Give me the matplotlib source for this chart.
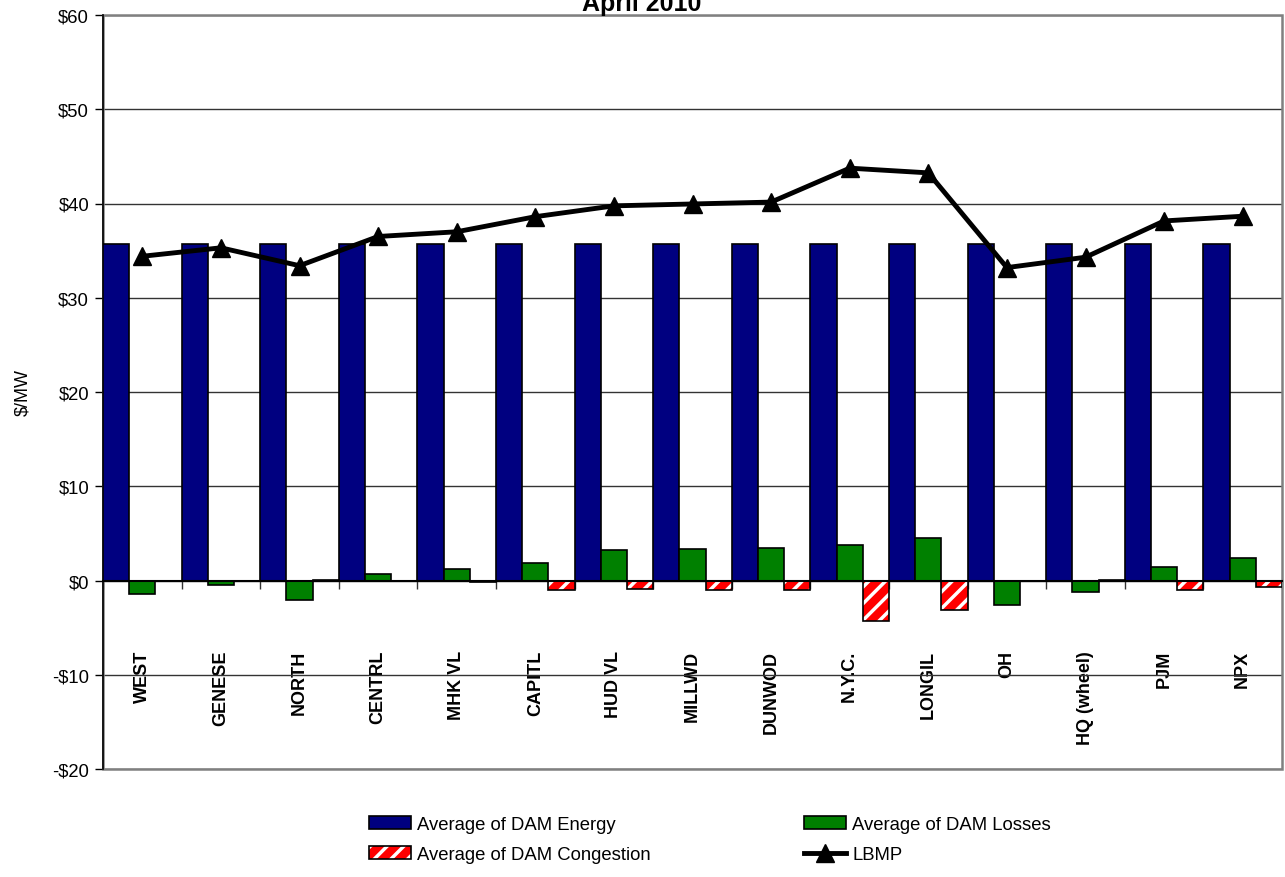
import matplotlib
matplotlib.use("Agg")
import matplotlib.pyplot as plt
from matplotlib.patches import Rectangle, Patch
from matplotlib.lines import Line2D
from matplotlib.legend_handler import HandlerTuple
import numpy as np

plt.rcParams['font.family'] = ['Liberation Sans', 'DejaVu Sans']
plt.rcParams['hatch.linewidth'] = 2.5

categories = ["WEST", "GENESE", "NORTH", "CENTRL", "MHK VL", "CAPITL", "HUD VL",
              "MILLWD", "DUNWOD", "N.Y.C.", "LONGIL", "OH", "HQ (wheel)", "PJM", "NPX"]
energy = [35.7, 35.7, 35.7, 35.7, 35.7, 35.7, 35.7, 35.7, 35.7, 35.7, 35.7, 35.7, 35.7, 35.7, 35.7]
losses = [-1.4, -0.5, -2.1, 0.7, 1.2, 1.9, 3.26, 3.3, 3.47, 3.8, 4.46, -2.55, -1.24, 1.41, 2.37]
congestion = [-0.1, -0.08, 0.05, -0.1, -0.12, -1.0, -0.9, -1.0, -1.0, -4.25, -3.15, -0.06, 0.06, -1.03, -0.74]
lbmp = [34.4, 35.3, 33.4, 36.5, 37.0, 38.6, 39.75, 39.95, 40.15, 43.75, 43.25, 33.2, 34.3, 38.15, 38.65]
yticks = [-20, -10, 0, 10, 20, 30, 40, 50, 60]

fig = plt.figure(figsize=(12.85, 8.78), dpi=100)
ax = fig.add_axes([103/1285, 1-770/878, (1282-103)/1285, (770-16)/878])

x = np.arange(len(categories))
w = 1/3
ax.bar(x - w, energy, width=w, color='#000080', edgecolor='black', linewidth=1.2, zorder=3)
ax.bar(x, losses, width=w, color='#008000', edgecolor='black', linewidth=1.2, zorder=3)
ax.bar(x + w, congestion, width=w, color='#ff0000', edgecolor='white', hatch='//', linewidth=0, zorder=3)
ax.bar(x + w, congestion, width=w, fill=False, edgecolor='black', linewidth=1.2, zorder=3.5)
ax.plot(x, lbmp, color='black', lw=3.5, marker='^', ms=13, zorder=5)

ax.set_xlim(-0.5, len(categories) - 0.5)
ax.set_ylim(-20, 60)
ax.set_yticks(yticks)
ax.set_yticklabels([("-$%d" % -v) if v < 0 else ("$%d" % v) for v in yticks], fontsize=13.3)
ax.tick_params(axis='y', direction='out', length=6, width=1, pad=4)
ax.yaxis.grid(True, color='#333333', lw=1, zorder=0)
ax.set_axisbelow(True)

# category axis at zero
ax.spines['bottom'].set_position(('data', 0))
ax.spines['bottom'].set_color('black')
ax.spines['bottom'].set_linewidth(1.5)
ax.spines['bottom'].set_zorder(4)
ax.set_xticks(x)
ax.set_xticklabels(categories, rotation=90, fontsize=13, fontweight='bold')
ax.tick_params(axis='x', which='major', length=0, pad=50)
ax.set_xticks(np.arange(-0.5, len(categories), 1), minor=True)
ax.tick_params(axis='x', which='minor', direction='out', length=6, width=1, color='#333333')
ax.spines['top'].set_visible(False)
ax.spines['right'].set_visible(False)
ax.spines['left'].set_color('black')
ax.spines['left'].set_linewidth(1.2)
ax.add_patch(Rectangle((0, 0), 1, 1, transform=ax.transAxes, fill=False,
                       edgecolor='#808080', lw=1.8, clip_on=False, zorder=1))

ax.set_ylabel('$/MW', fontsize=13)
ax.yaxis.set_label_coords(-0.061, 0.5)

fig.text(0.4996, 1 - 11/878, 'April 2010', ha='center', va='baseline',
         fontsize=18, fontweight='bold')

h_energy = Patch(facecolor='#000080', edgecolor='black', linewidth=1.2)
h_loss = Patch(facecolor='#008000', edgecolor='black', linewidth=1.2)
h_cong = (Patch(facecolor='#ff0000', edgecolor='white', hatch='//', linewidth=0),
          Patch(fill=False, edgecolor='black', linewidth=1.2))
h_lbmp = Line2D([], [], color='black', lw=3.5, marker='^', ms=13)
leg = fig.legend([h_energy, h_cong, h_loss, h_lbmp],
                 ['Average of DAM Energy', 'Average of DAM Congestion',
                  'Average of DAM Losses', 'LBMP'],
                 handler_map={tuple: HandlerTuple(ndivide=1)},
                 ncol=2, loc='upper left', bbox_to_anchor=(369/1285, 1 - 817/878),
                 frameon=False, fontsize=13.3, handlelength=2.25, handleheight=0.7,
                 handletextpad=0.35, labelspacing=0.72, columnspacing=8.3, borderpad=0,
                 borderaxespad=0)

fig.savefig('out.png', dpi=100)
